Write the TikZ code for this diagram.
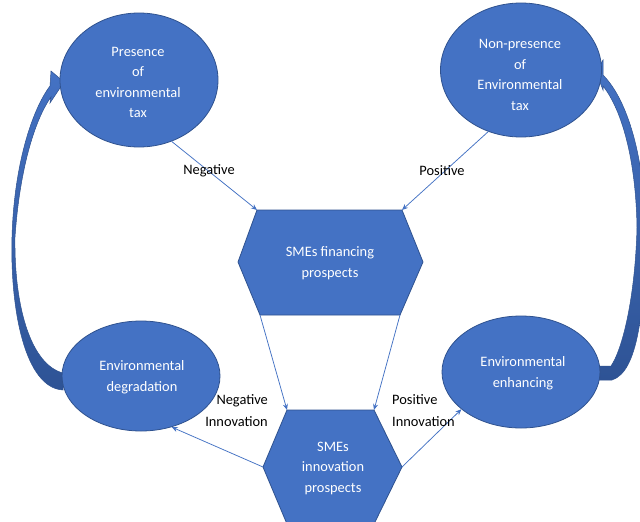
\documentclass[tikz,border=0pt]{standalone}
\usepackage{fontspec}
\setmainfont{Carlito}
\usetikzlibrary{shapes.geometric,arrows.meta}
\definecolor{shapeblue}{HTML}{4472C4}
\definecolor{edgeblue}{HTML}{2F528F}
\definecolor{darkblue}{HTML}{2E5395}
\begin{document}
\begin{tikzpicture}[x=1pt,y=-1pt,
  ell/.style={ellipse, fill=shapeblue, draw=edgeblue, line width=0.8pt, inner sep=0pt},
  hexa/.style={fill=shapeblue, draw=edgeblue, line width=0.8pt},
  intext/.style={text=white, align=center, font=\fontsize{14.4}{20.5}\selectfont, inner sep=0pt},
  lbl/.style={text=black, font=\fontsize{14.4}{22}\selectfont, inner sep=0pt},
  conn/.style={draw=shapeblue, line width=0.75pt, -{Stealth[length=6pt,width=5pt]}},
  bendarrow/.style={draw=edgeblue, line width=0.5pt, top color=shapeblue, bottom color=darkblue}]
\useasboundingbox (0,0) rectangle (640,522);
\fill[white] (0,0) rectangle (640,522);
\clip (0,0) rectangle (640,522);

% curved block arrows
\path[bendarrow] (63,390) .. controls (25,388) and (10,310) .. (12,237)
  .. controls (14,165) and (32,110) .. (50,86) -- (51,71) -- (64,82) -- (50,103) -- (51,97)
  .. controls (36,118) and (20,165) .. (15,237)
  .. controls (14,310) and (32,365) .. (63,373) -- cycle;
\path[bendarrow] (596,366) -- (611,366) .. controls (622,350) and (635,300) .. (637,228)
  .. controls (636,160) and (622,110) .. (603,86) -- (603,90) -- (596,72) -- (603,60) -- (603,75)
  .. controls (628,100) and (645,160) .. (645,228)
  .. controls (645,310) and (638,372) .. (612,380) -- (596,380) -- cycle;

% ellipses
\node[ell, minimum width=158pt, minimum height=134pt] (pres) at (139,80) {};
\node[ell, minimum width=161pt, minimum height=134pt] (nonp) at (521,70) {};
\node[ell, minimum width=158pt, minimum height=110pt] (deg) at (141,376) {};
\node[ell, minimum width=158pt, minimum height=112pt] (enh) at (521,372) {};
\node[intext] (prest) at (138,82.5) {Presence\\of\\environmental\\tax};
\node[intext] (nonpt) at (520,75) {Non-presence\\of\\Environmental\\tax};
\node[intext] (degt) at (142,377) {Environmental\\degradation};
\node[intext] (enht) at (523,373) {Environmental\\enhancing};

% hexagons
\coordinate (a1) at (257,210);
\coordinate (a2) at (402,210);
\coordinate (a3) at (423,262);
\coordinate (a4) at (400,315);
\coordinate (a5) at (260,315);
\coordinate (a6) at (238,262);
\path[hexa] (a1) -- (a2) -- (a3) -- (a4) -- (a5) -- (a6) -- cycle;
\node[intext] (fin) at (330,263) {SMEs financing\\prospects};

\coordinate (b1) at (287,410);
\coordinate (b2) at (374,410);
\coordinate (b3) at (402,467);
\coordinate (b4) at (374,524);
\coordinate (b5) at (287,524);
\coordinate (b6) at (263,467);
\path[hexa] (b1) -- (b2) -- (b3) -- (b4) -- (b5) -- (b6) -- cycle;
\node[intext] (inn) at (333,468) {SMEs\\innovation\\prospects};

% connectors
\draw[conn] (pres.-62) -- (a1);
\draw[conn] (nonp.-118) -- (a2);
\draw[conn] (a5) -- (b1);
\draw[conn] (a4) -- (b2);
\draw[conn] (b6) -- (deg.-59);
\draw[conn] (b3) -- (enh.-148);

% labels
\node[lbl] (neg) at (209,171) {Negative};
\node[lbl] (pos) at (442,171) {Positive};
\node[lbl, align=right, anchor=east] (negi) at (268,411) {Negative\\Innovation};
\node[lbl, align=left, anchor=west] (posi) at (392,411) {Positive\\Innovation};
\end{tikzpicture}
\end{document}
